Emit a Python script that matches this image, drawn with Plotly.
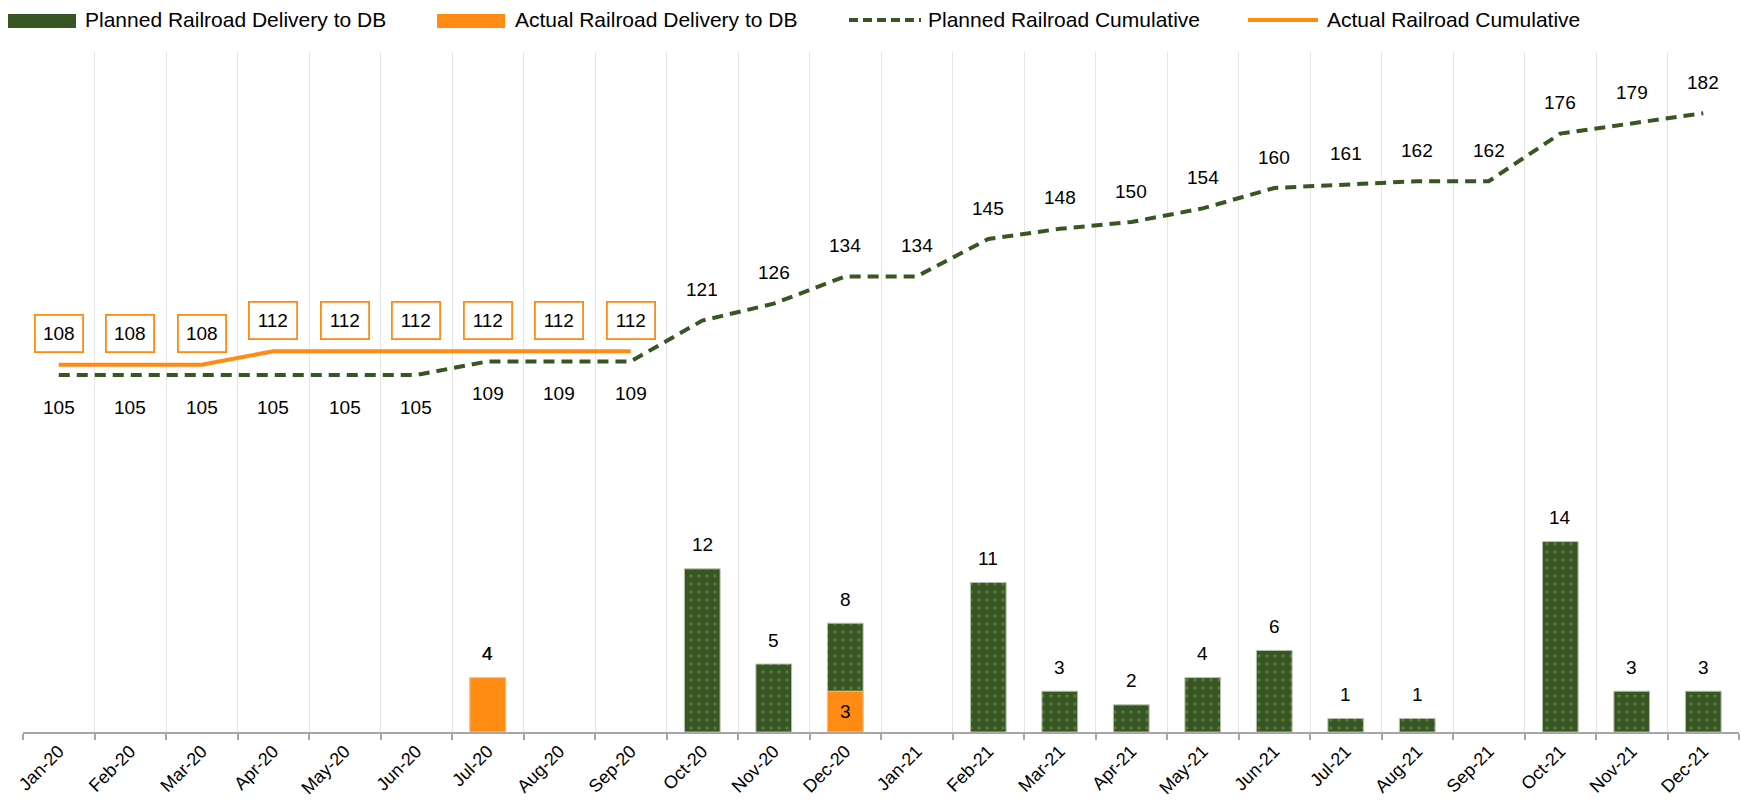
import plotly.graph_objects as go

months = ["Jan-20", "Feb-20", "Mar-20", "Apr-20", "May-20", "Jun-20", "Jul-20", "Aug-20",
          "Sep-20", "Oct-20", "Nov-20", "Dec-20", "Jan-21", "Feb-21", "Mar-21", "Apr-21",
          "May-21", "Jun-21", "Jul-21", "Aug-21", "Sep-21", "Oct-21", "Nov-21", "Dec-21"]
planned_delivery = [0, 0, 0, 0, 0, 0, 4, 0, 0, 12, 5, 8, 0, 11, 3, 2, 4, 6, 1, 1, 0, 14, 3, 3]
actual_delivery = [None, None, None, None, None, None, 4, None, None, None, None, 3,
                   None, None, None, None, None, None, None, None, None, None, None, None]
planned_cumulative = [105, 105, 105, 105, 105, 105, 109, 109, 109, 121, 126, 134,
                      134, 145, 148, 150, 154, 160, 161, 162, 162, 176, 179, 182]
actual_cumulative = [108, 108, 108, 112, 112, 112, 112, 112, 112]

GREEN = "#375623"
DOT = "#729f50"
ORANGE = "#FF8B12"
FONT = "Liberation Sans"

W, H = 1741, 806
ML, MR, MT, MB = 23, 2, 52, 74
PW, PH = W - ML - MR, H - MT - MB


def px_x(px):
    return (px - ML) / PW


def px_y(py):
    return (H - MB - py) / PH


fig = go.Figure()

fig.add_trace(go.Bar(
    x=months, y=[v if v else None for v in planned_delivery],
    name="Planned Railroad Delivery to DB",
    width=0.5,
    marker=dict(color=GREEN, line=dict(color="#b9c4ad", width=1),
                pattern=dict(shape=".", fgcolor=DOT, bgcolor=GREEN, size=8, solidity=0.15)),
    showlegend=False, hoverinfo="x+y",
))
fig.add_trace(go.Bar(
    x=months, y=actual_delivery, name="Actual Railroad Delivery to DB",
    width=0.5,
    marker=dict(color=ORANGE, line=dict(color="#f3c79a", width=1)),
    showlegend=False, hoverinfo="x+y",
))
fig.add_trace(go.Scatter(
    x=months, y=planned_cumulative, name="Planned Railroad Cumulative",
    mode="lines", yaxis="y2",
    line=dict(color=GREEN, width=4, dash="11px,7px"),
    showlegend=False,
))
fig.add_trace(go.Scatter(
    x=months[:len(actual_cumulative)], y=actual_cumulative, name="Actual Railroad Cumulative",
    mode="lines", yaxis="y2",
    line=dict(color=ORANGE, width=4),
    showlegend=False,
))

ann = []
lab_font = dict(family=FONT, size=19, color="#000000")

# planned cumulative labels
for i, (m, v) in enumerate(zip(months, planned_cumulative)):
    below = i < 9
    ann.append(dict(x=m, y=v, xref="x", yref="y2", text=str(v), showarrow=False,
                    yshift=-32 if below else 31, font=lab_font))

# actual cumulative labels (boxed)
for m, v in zip(months, actual_cumulative):
    ann.append(dict(x=m, y=v, xref="x", yref="y2", text=str(v), showarrow=False,
                    yshift=31, font=lab_font, bordercolor=ORANGE, borderwidth=1.8,
                    borderpad=4, width=38, height=27, bgcolor="#ffffff"))

# planned delivery labels
for m, v in zip(months, planned_delivery):
    if v:
        ann.append(dict(x=m, y=v, xref="x", yref="y", text=str(v), showarrow=False,
                        yshift=24, font=lab_font))

# actual delivery labels
for m, v, p in zip(months, actual_delivery, planned_delivery):
    if v:
        if v >= p:
            ann.append(dict(x=m, y=v, xref="x", yref="y", text=str(v), showarrow=False,
                            yshift=24, font=lab_font))
        else:
            ann.append(dict(x=m, y=v / 2, xref="x", yref="y", text=str(v), showarrow=False,
                            font=lab_font))

# manual legend
leg_font = dict(family=FONT, size=21, color="#000000")
shapes = []
legend_items = [
    ("rect", GREEN, 8, 76, 83, "Planned Railroad Delivery to DB"),
    ("rect", ORANGE, 437, 505, 513, "Actual Railroad Delivery to DB"),
    ("dash", GREEN, 849, 921, 926, "Planned Railroad Cumulative"),
    ("line", ORANGE, 1248, 1318, 1325, "Actual Railroad Cumulative"),
]
for kind, col, x0, x1, tx, label in legend_items:
    if kind == "rect":
        shapes.append(dict(type="rect", xref="paper", yref="paper",
                           x0=px_x(x0), x1=px_x(x1), y0=px_y(28), y1=px_y(14),
                           fillcolor=col, line=dict(width=0)))
    else:
        shapes.append(dict(type="line", xref="paper", yref="paper",
                           x0=px_x(x0), x1=px_x(x1), y0=px_y(20), y1=px_y(20),
                           line=dict(color=col, width=4,
                                     dash="9px,5px" if kind == "dash" else "solid")))
    ann.append(dict(x=px_x(tx), y=px_y(20), xref="paper", yref="paper", text=label,
                    showarrow=False, xanchor="left", yanchor="middle", font=leg_font))

fig.update_layout(
    width=W, height=H,
    margin=dict(l=ML, r=MR, t=MT, b=MB),
    paper_bgcolor="#ffffff", plot_bgcolor="#ffffff",
    barmode="overlay",
    showlegend=False,
    font=dict(family=FONT, color="#000000"),
    xaxis=dict(type="category", categoryorder="array", categoryarray=months,
               tickson="boundaries", showgrid=True, gridcolor="#e6e6e6", gridwidth=1,
               showline=True, linecolor="#a6a6a6", linewidth=1.5,
               ticks="outside", ticklen=6, tickcolor="#a6a6a6", tickwidth=1.5,
               tickangle=-45, tickfont=dict(family=FONT, size=18, color="#000000"),
               range=[-0.5, len(months) - 0.5], zeroline=False, automargin=False),
    yaxis=dict(range=[0, 50], visible=False, showgrid=False, zeroline=False),
    yaxis2=dict(range=[0, 200], overlaying="y", side="right", visible=False,
                showgrid=False, zeroline=False),
    annotations=ann,
    shapes=shapes,
)

fig.write_html(
    "out.html",
    config={"displayModeBar": False},
    post_script="document.body.style.margin='0';document.body.style.overflow='hidden';",
)
